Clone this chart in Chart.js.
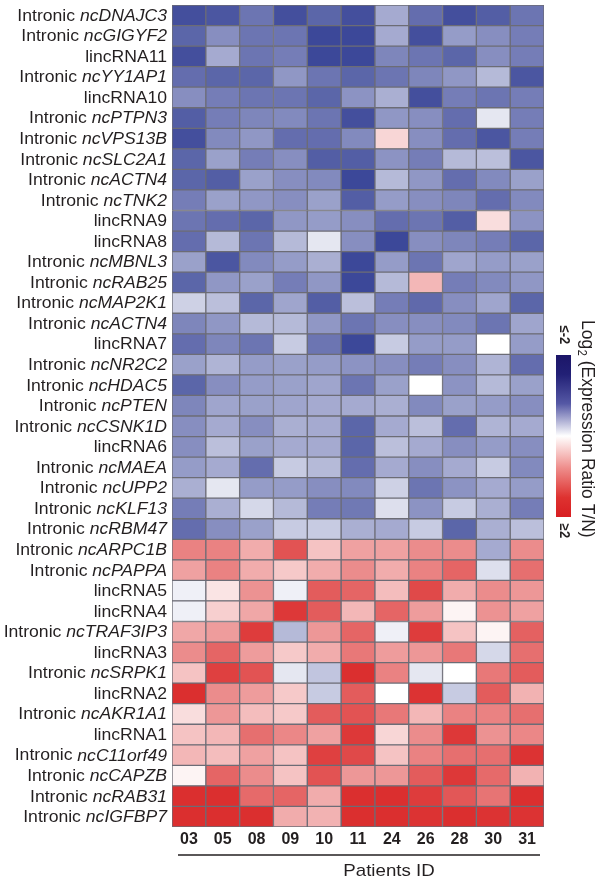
<!DOCTYPE html>
<html>
<head>
<meta charset="utf-8">
<script src="https://cdn.jsdelivr.net/npm/chart.js@4.4.1/dist/chart.umd.min.js"></script>
<style>
  html, body { margin: 0; padding: 0; background: #fff; }
  #wrap { width: 600px; height: 885px; position: relative; }
</style>
</head>
<body>
<div id="wrap"><canvas id="heatmap"></canvas></div>
<script>
const patients = ["03", "05", "08", "09", "10", "11", "24", "26", "28", "30", "31"]

const rowLabels = [
  "Intronic ncDNAJC3", "Intronic ncGIGYF2", "lincRNA11", "Intronic ncYY1AP1", "lincRNA10",
  "Intronic ncPTPN3", "Intronic ncVPS13B", "Intronic ncSLC2A1", "Intronic ncACTN4", "Intronic ncTNK2",
  "lincRNA9", "lincRNA8", "Intronic ncMBNL3", "Intronic ncRAB25", "Intronic ncMAP2K1",
  "Intronic ncACTN4", "lincRNA7", "Intronic ncNR2C2", "Intronic ncHDAC5", "Intronic ncPTEN",
  "Intronic ncCSNK1D", "lincRNA6", "Intronic ncMAEA", "Intronic ncUPP2", "Intronic ncKLF13",
  "Intronic ncRBM47", "Intronic ncARPC1B", "Intronic ncPAPPA", "lincRNA5", "lincRNA4",
  "Intronic ncTRAF3IP3", "lincRNA3", "Intronic ncSRPK1", "lincRNA2", "Intronic ncAKR1A1",
  "lincRNA1", "Intronic ncC11orf49", "Intronic ncCAPZB", "Intronic ncRAB31", "Intronic ncIGFBP7",
]

// log2 (T/N) per row, one value per patient (same order as patients)
const log2Ratio = [
  [-1.7, -1.6, -1.2, -1.7, -1.4, -1.7, -0.6, -1.3, -1.7, -1.5, -1.2],
  [-1.4, -0.9, -1.2, -1.2, -1.8, -1.8, -0.6, -1.7, -0.75, -0.9, -1.1],
  [-1.7, -0.6, -1.2, -1.1, -1.8, -1.8, -1.0, -1.2, -1.4, -0.9, -1.1],
  [-1.3, -1.4, -1.4, -0.8, -1.2, -1.4, -1.2, -1.0, -0.8, -0.45, -1.6],
  [-0.9, -1.1, -1.2, -1.2, -1.4, -0.85, -0.55, -1.7, -1.1, -1.2, -1.1],
  [-1.5, -1.1, -1.0, -0.95, -1.2, -1.7, -0.8, -0.9, -1.3, -0.1, -1.1],
  [-1.7, -0.95, -0.8, -1.3, -1.3, -0.95, 0.25, -0.9, -1.3, -1.6, -1.1],
  [-1.4, -0.7, -1.1, -0.9, -1.5, -1.5, -0.85, -1.1, -0.45, -0.4, -1.6],
  [-1.4, -1.5, -0.7, -0.9, -0.95, -1.8, -0.45, -0.8, -1.3, -0.95, -0.7],
  [-1.1, -0.7, -0.8, -0.9, -0.7, -1.5, -0.75, -0.9, -1.0, -1.3, -0.95],
  [-1.2, -1.3, -1.4, -0.8, -0.75, -0.9, -1.3, -1.2, -1.5, 0.2, -0.85],
  [-1.3, -0.45, -1.2, -0.45, -0.1, -0.9, -1.8, -0.9, -1.0, -1.1, -1.4],
  [-0.7, -1.6, -0.95, -0.75, -0.55, -1.8, -0.75, -1.2, -0.65, -0.75, -0.7],
  [-1.4, -0.8, -0.7, -1.1, -0.8, -1.8, -0.45, 0.5, -1.1, -0.95, -0.8],
  [-0.25, -0.4, -1.4, -0.65, -1.5, -0.4, -1.1, -1.35, -0.9, -0.65, -1.4],
  [-1.0, -0.8, -0.45, -0.45, -0.8, -1.2, -0.9, -0.9, -0.95, -1.2, -0.65],
  [-1.3, -1.0, -1.2, -0.3, -1.2, -1.8, -0.3, -0.75, -0.75, 0.0, -0.75],
  [-0.7, -0.5, -0.75, -0.7, -0.75, -0.85, -0.9, -1.1, -0.9, -0.5, -1.3],
  [-1.4, -0.9, -0.75, -0.7, -0.65, -1.2, -0.7, 0.0, -0.85, -0.45, -0.7],
  [-1.0, -0.65, -0.7, -0.65, -0.6, -0.6, -0.55, -0.95, -0.7, -0.75, -0.9],
  [-0.9, -0.6, -0.9, -0.55, -0.6, -1.4, -0.6, -0.4, -1.3, -0.5, -0.6],
  [-0.9, -0.4, -0.7, -0.6, -0.6, -1.4, -0.4, -0.6, -0.9, -0.75, -0.9],
  [-0.75, -0.6, -1.3, -0.3, -0.45, -1.3, -0.6, -0.9, -0.6, -0.3, -0.95],
  [-0.55, -0.1, -0.75, -0.75, -0.9, -0.95, -0.25, -1.2, -0.85, -0.6, -0.75],
  [-1.1, -0.55, -0.2, -0.45, -1.1, -1.15, -0.15, -0.85, -0.3, -0.55, -1.1],
  [-1.3, -0.9, -0.7, -0.3, -0.3, -0.55, -0.6, -0.3, -1.4, -0.55, -0.4],
  [1.0, 1.0, 0.6, 1.5, 0.4, 0.7, 0.7, 0.9, 0.9, -0.6, 0.9],
  [0.7, 1.0, 0.6, 0.35, 0.6, 0.9, 0.6, 1.0, 1.3, -0.15, 1.2],
  [-0.05, 0.15, 0.85, -0.05, 1.4, 1.3, 0.45, 1.6, 0.6, 0.9, 0.8],
  [-0.05, 0.3, 0.65, 1.8, 1.4, 0.5, 1.3, 0.75, 0.05, 0.85, 0.7],
  [0.65, 0.75, 1.75, -0.45, 0.8, 1.3, -0.05, 1.75, 0.4, 0.05, 1.35],
  [0.9, 1.3, 0.75, 0.35, 0.6, 1.1, 0.75, 0.8, 1.1, -0.2, 1.2],
  [0.4, 1.7, 1.5, -0.1, -0.35, 1.9, 1.0, -0.1, 0.0, 1.1, 1.4],
  [1.9, 0.9, 0.75, 0.35, -0.3, 1.4, 0.0, 1.85, -0.3, 1.4, 0.55],
  [0.2, 0.8, 0.45, 0.35, 1.4, 1.5, 1.1, 0.5, 1.0, 1.0, 1.2],
  [0.4, 0.5, 1.2, 0.95, 0.7, 1.8, 0.25, 0.9, 1.8, 0.85, 0.95],
  [0.5, 0.45, 0.7, 0.4, 1.7, 1.6, 0.4, 1.0, 1.2, 1.2, 1.85],
  [0.05, 1.3, 0.9, 0.4, 1.5, 0.8, 0.8, 1.4, 1.8, 1.25, 0.55],
  [1.9, 1.9, 1.25, 1.3, 0.6, 1.9, 1.9, 1.75, 1.45, 1.15, 1.9],
  [1.9, 1.9, 1.9, 0.6, 0.55, 1.9, 1.9, 1.85, 1.9, 1.85, 1.85],
]

const colorLimits = ["≤-2", "≥2"]

const FONT = "'Liberation Sans', Arial, sans-serif"
const TEXT = "#231f20"
const STRETCH = 1.1 // the reference figure is slightly wider than tall

const blueEnd = [45, 58, 145]
const redEnd = [218, 38, 38]

function heatColor(v) {
  const t = Math.max(-1, Math.min(1, v / 2))
  const end = t < 0 ? blueEnd : redEnd
  const a = Math.pow(Math.abs(t), t < 0 ? 0.7 : 0.8)
  const c = end.map((e) => Math.round(255 + (e - 255) * a))
  return `rgb(${c[0]},${c[1]},${c[2]})`
}

const datasets = patients.map((p, j) => ({
  label: p,
  data: log2Ratio.map(() => [j, j + 1]),
  backgroundColor: log2Ratio.map((row) => heatColor(row[j])),
  borderColor: "#6c6c76",
  borderWidth: 1,
  borderSkipped: false,
  grouped: false,
  barPercentage: 1,
  categoryPercentage: 1,
}))

// row labels: "Intronic" upright, gene name in italics
const rowLabelPlugin = {
  id: "rowLabels",
  afterDraw(chart) {
    const { ctx } = chart
    const y = chart.scales.y
    const right = chart.chartArea.left - 5
    ctx.save()
    ctx.fillStyle = TEXT
    ctx.textBaseline = "middle"
    ctx.textAlign = "left"
    rowLabels.forEach((lab, i) => {
      const yy = y.getPixelForValue(i) + 1
      let a = lab, b = ""
      if (lab.startsWith("Intronic ")) {
        a = "Intronic "
        b = lab.slice(9)
      }
      ctx.font = `16px ${FONT}`
      const w1 = ctx.measureText(a).width
      ctx.font = `italic 16px ${FONT}`
      const w2 = ctx.measureText(b).width
      ctx.save()
      ctx.translate(right, yy)
      ctx.scale(STRETCH, 1)
      ctx.font = `16px ${FONT}`
      ctx.fillText(a, -(w1 + w2), 0)
      ctx.font = `italic 16px ${FONT}`
      ctx.fillText(b, -w2, 0)
      ctx.restore()
    })
    ctx.restore()
  },
}

// colour key on the right + underline and axis title
const keyPlugin = {
  id: "colorKey",
  afterDraw(chart) {
    const { ctx, chartArea } = chart
    ctx.save()

    const bx = 556, by = 355, bw = 15, bh = 162
    const g = ctx.createLinearGradient(0, by, 0, by + bh)
    g.addColorStop(0, "rgb(28,22,104)")
    g.addColorStop(0.12, "rgb(34,32,118)")
    g.addColorStop(0.3, "rgb(85,88,165)")
    g.addColorStop(0.5, "rgb(255,255,255)")
    g.addColorStop(0.7, "rgb(238,140,138)")
    g.addColorStop(0.88, "rgb(222,50,48)")
    g.addColorStop(1, "rgb(216,30,34)")
    ctx.fillStyle = g
    ctx.fillRect(bx, by, bw, bh)

    ctx.fillStyle = TEXT
    ctx.textAlign = "center"
    ctx.textBaseline = "middle"
    const rotText = (txt, x, y, font) => {
      ctx.save()
      ctx.translate(x, y)
      ctx.rotate(Math.PI / 2)
      ctx.scale(1, STRETCH)
      ctx.font = font
      ctx.fillText(txt, 0, 0)
      ctx.restore()
    }
    rotText(colorLimits[0], bx + bw / 2, 335, `bold 13px ${FONT}`)
    rotText(colorLimits[1], bx + bw / 2, 531, `bold 13px ${FONT}`)

    // Log2 (Expression Ratio T/N), reading downwards
    ctx.save()
    ctx.translate(587, 320)
    ctx.rotate(Math.PI / 2)
    ctx.scale(1, STRETCH)
    ctx.textAlign = "left"
    ctx.font = `17.5px ${FONT}`
    ctx.fillText("Log", 0, 0)
    let w = ctx.measureText("Log").width
    ctx.font = `11px ${FONT}`
    ctx.fillText("2", w + 0.5, 5)
    w += ctx.measureText("2").width + 0.5
    ctx.font = `17.5px ${FONT}`
    ctx.fillText(" (Expression Ratio T/N)", w, 0)
    ctx.restore()

    // underline below the patient IDs
    ctx.strokeStyle = TEXT
    ctx.lineWidth = 1.5
    ctx.beginPath()
    ctx.moveTo(chartArea.left + 6, 855)
    ctx.lineTo(chartArea.right - 4, 855)
    ctx.stroke()

    ctx.save()
    ctx.translate(389, 871)
    ctx.scale(STRETCH, 1)
    ctx.font = `17px ${FONT}`
    ctx.textAlign = "center"
    ctx.fillText("Patients ID", 0, 0)
    ctx.restore()

    ctx.restore()
  },
}

new Chart(document.getElementById("heatmap"), {
  type: "bar",
  data: { labels: rowLabels, datasets },
  options: {
    indexAxis: "y",
    animation: false,
    devicePixelRatio: 1,
    responsive: true,
    maintainAspectRatio: false,
    layout: { padding: { top: 5, right: 56, left: 0, bottom: 0 } },
    plugins: {
      legend: { display: false },
      tooltip: { enabled: false },
    },
    events: [],
    scales: {
      y: {
        type: "category",
        grid: { display: false, drawTicks: false },
        border: { display: false },
        ticks: { display: false },
        afterFit: (s) => { s.width = 172 },
      },
      x: {
        type: "linear",
        min: 0,
        max: patients.length,
        grid: { display: false, drawTicks: false },
        border: { display: false },
        afterBuildTicks: (s) => {
          s.ticks = patients.map((p, i) => ({ value: i + 0.5 }))
        },
        ticks: {
          autoSkip: false,
          maxRotation: 0,
          padding: 3,
          color: TEXT,
          font: { family: FONT, size: 16, weight: "bold" },
          callback: (v, i) => patients[i],
        },
        afterFit: (s) => { s.height = 58 },
      },
    },
  },
  plugins: [rowLabelPlugin, keyPlugin],
})
</script>
</body>
</html>
